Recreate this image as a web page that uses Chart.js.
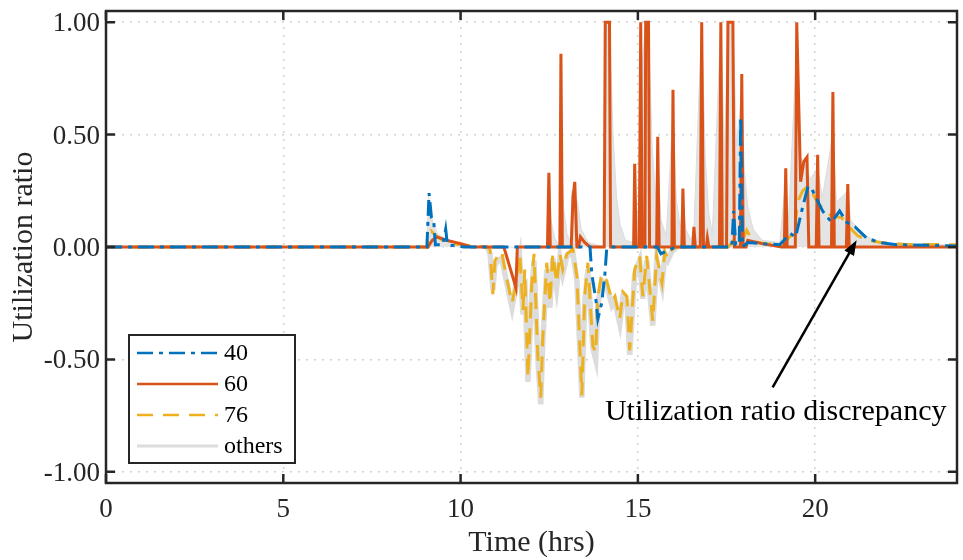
<!DOCTYPE html>
<html>
<head>
<meta charset="utf-8">
<script src="https://cdn.jsdelivr.net/npm/chart.js@4.4.1/dist/chart.umd.min.js"></script>
<style>
  html, body { margin: 0; padding: 0; background: #fff; }
</style>
</head>
<body>
<canvas id="chart" width="963" height="560"></canvas>
<script>
// axis ticks
const xTicks = [0, 5, 10, 15, 20];
const yTicks = [-1, -0.5, 0, 0.5, 1];

// bus 40 (blue, dash-dot)
const t40 = [0, 9.05, 9.11, 9.18, 9.24, 9.29, 9.5, 9.58, 9.63, 10.1, 13.65, 13.7, 13.82, 13.87, 13.98, 14.07, 14.12, 14.2,
  15.55, 15.65, 15.8, 16.0, 16.2, 17.65, 17.7, 17.76, 17.86, 17.9, 17.95, 18.1, 18.5, 19.0, 19.3, 19.45, 19.65, 19.8, 19.9,
  20.21, 20.46, 20.69, 20.89, 21.12, 21.45, 21.82, 22.3, 24];
const v40 = [0, 0, 0.24, 0.13, 0.12, 0.01, 0.01, 0.08, 0.01, 0, 0, -0.12, -0.24, -0.32, -0.25, -0.12, -0.01, 0,
  0, -0.03, -0.02, -0.005, 0, 0, 0.16, 0.01, 0.01, 0.58, 0, 0.02, 0.015, 0.01, 0.06, 0.045, 0.18, 0.27, 0.26,
  0.16, 0.11, 0.16, 0.11, 0.09, 0.04, 0.02, 0.01, 0.005];

// bus 60 (orange, solid)
const t60 = [0, 9.08, 9.2, 9.33, 9.6, 10.06, 10.3, 11.22, 11.56, 11.6, 12.45, 12.49, 12.53, 12.8, 12.83, 12.87,
  13.12, 13.17, 13.22, 13.28, 13.33, 13.38, 13.5, 13.65, 14.05, 14.08, 14.2, 14.23, 14.88, 14.91, 14.95, 15.04, 15.08, 15.12,
  15.2, 15.22, 15.3, 15.33, 15.53, 15.56, 15.6, 15.96, 15.99, 16.03, 16.24, 16.27, 16.31, 16.55, 16.58, 16.62,
  16.76, 16.8, 16.85, 16.93, 16.96, 17.0, 17.3, 17.34, 17.38, 17.5, 17.54, 17.68, 17.72, 17.89, 17.93, 17.97,
  18.05, 18.1, 18.5, 19.05, 19.13, 19.17, 19.21, 19.44, 19.48, 19.59, 19.68, 19.77, 19.82, 20.03, 20.07, 20.11,
  20.46, 20.5, 20.54, 20.88, 20.92, 20.96, 24];
const v60 = [0, 0, 0.03, 0.045, 0.03, 0.013, 0, 0, -0.18, 0, 0, 0.33, 0, 0, 0.86, 0,
  0, 0.22, 0.29, 0, 0, 0.045, 0.02, 0, 0, 1, 1, 0, 0, 0.37, 0, 0, 1, 0,
  0, 1, 1, 0, 0, 0.49, 0, 0, 0.7, 0, 0, 0.26, 0, 0, 0.09, 0,
  0, 1, 0, 0, 0.04, 0, 0, 1, 0, 0, 1, 1, 0, 0, 0.77, 0,
  0, 0.03, 0.015, 0, 0, 0.35, 0, 0, 1, 0.29, 0.38, 0.4, 0, 0, 0.41, 0,
  0, 0.69, 0, 0, 0.28, 0, 0];

// bus 76 (yellow, dashed)
const t76 = [0, 9.08, 9.18, 9.3, 9.5, 9.8, 10.3, 10.75, 10.83, 10.91, 10.97, 11.05, 11.16, 11.25, 11.45, 11.53, 11.67,
  11.76, 11.81, 11.9, 12.01, 12.07, 12.18, 12.26, 12.32, 12.43, 12.52, 12.6, 12.71, 12.8, 12.88, 13.0, 13.17, 13.28,
  13.42, 13.5, 13.59, 13.73, 13.81, 13.87, 13.98, 14.12, 14.27, 14.35, 14.49, 14.58, 14.69, 14.77, 14.91, 15.05,
  15.14, 15.25, 15.42, 15.53, 15.68, 15.76, 15.84, 15.96, 16.1, 17.55, 17.7, 17.85, 17.95, 18.07, 18.24, 18.6,
  19.1, 19.28, 19.42, 19.5, 19.65, 19.8, 20.1, 20.45, 20.75, 20.95, 21.2, 21.5, 21.85, 22.5, 24];
const v76 = [0, 0, 0.07, 0.05, 0.03, 0.015, 0.005, 0, -0.01, -0.21, -0.06, -0.04, -0.02, -0.1, -0.25, -0.19, -0.03,
  -0.28, -0.1, -0.58, -0.16, -0.03, -0.49, -0.67, -0.4, -0.07, -0.25, -0.03, -0.16, -0.03, -0.1, -0.03, -0.01, -0.13,
  -0.66, -0.22, -0.07, -0.44, -0.47, -0.22, -0.12, -0.15, -0.24, -0.22, -0.32, -0.2, -0.22, -0.46, -0.1, -0.04,
  -0.22, -0.04, -0.33, -0.04, -0.16, -0.02, -0.05, -0.01, 0, 0, 0.03, 0.04, 0.03, 0.075, 0.025, 0.015,
  0.01, 0.045, 0.06, 0.2, 0.25, 0.27, 0.19, 0.14, 0.13, 0.09, 0.05, 0.03, 0.02, 0.012, 0.01];

// other buses, positive part (grey, filled look)
const tOthA = [0, 9.05, 9.1, 9.2, 9.35, 9.6, 10.0, 10.4, 12.45, 12.49, 12.55, 12.65, 12.8, 12.83, 12.9, 13.0, 13.1,
  13.14, 13.3, 13.4, 13.6, 14.05, 14.08, 14.2, 14.3, 14.4, 14.5, 14.65, 14.88, 14.91, 14.98, 15.06, 15.08, 15.12,
  15.22, 15.3, 15.4, 15.5, 15.56, 15.65, 15.8, 15.99, 16.08, 16.2, 16.27, 16.35, 16.5, 16.58, 16.8, 16.9, 17.0,
  17.1, 17.34, 17.44, 17.54, 17.68, 17.78, 17.93, 18.0, 18.1, 18.25, 18.5, 19.0, 19.17, 19.25, 19.48, 19.55, 19.7,
  19.85, 20.07, 20.2, 20.5, 20.6, 20.92, 21.0, 21.3, 21.8, 22.5, 24];
const vOthA = [0, 0, 0.22, 0.12, 0.06, 0.03, 0.01, 0, 0, 0.3, 0.12, 0.04, 0, 0.5, 0.18, 0.06, 0.02,
  0.25, 0.2, 0.08, 0.02, 0, 1, 1, 0.5, 0.22, 0.1, 0.03, 0.02, 0.3, 0.1, 0.3, 1, 0.8,
  1, 1, 0.45, 0.22, 0.4, 0.12, 0.05, 0.6, 0.22, 0.08, 0.22, 0.08, 0.03, 0.08, 1, 0.4, 0.15,
  0.06, 1, 0.4, 1, 1, 0.45, 0.7, 0.35, 0.18, 0.08, 0.03, 0.02, 0.3, 0.12, 0.9, 0.4, 0.38,
  0.3, 0.35, 0.22, 0.5, 0.2, 0.25, 0.12, 0.06, 0.02, 0.01, 0.01];

// other buses, negative part (grey band under the dips)
const tOthB = [10.75, 10.83, 10.91, 10.97, 11.05, 11.16, 11.25, 11.45, 11.53, 11.67, 11.76, 11.81, 11.9, 12.01,
  12.07, 12.18, 12.26, 12.32, 12.43, 12.52, 12.6, 12.71, 12.8, 12.88, 13.0, 13.17, 13.28, 13.42, 13.5, 13.59,
  13.73, 13.81, 13.87, 13.98, 14.12, 14.27, 14.35, 14.49, 14.58, 14.69, 14.77, 14.91, 15.05, 15.14, 15.25,
  15.42, 15.53, 15.68, 15.76, 15.84, 15.96, 16.1];
const vOthB = [0, -0.03, -0.19, -0.08, -0.06, -0.05, -0.12, -0.27, -0.2, -0.06, -0.3, -0.14, -0.6, -0.2,
  -0.06, -0.5, -0.7, -0.42, -0.1, -0.27, -0.05, -0.18, -0.05, -0.12, -0.04, -0.03, -0.15,
  -0.67, -0.25, -0.1, -0.45, -0.5, -0.26, -0.15, -0.17, -0.26, -0.24, -0.34, -0.22, -0.24, -0.48, -0.12, -0.06,
  -0.23, -0.06, -0.35, -0.06, -0.17, -0.04, -0.06, -0.02, 0];

const pts = (t, v) => t.map((x, i) => ({ x: x, y: v[i] }));

const serif = "'Liberation Serif', 'Times New Roman', serif";
const ink = '#262626';

const extras = {
  id: 'extras',
  afterDraw(chart) {
    const { ctx, chartArea: a, scales: { x, y } } = chart;
    ctx.save();

    // box + inward ticks
    ctx.strokeStyle = ink;
    ctx.lineWidth = 2.5;
    ctx.strokeRect(a.left, a.top, a.right - a.left, a.bottom - a.top);
    ctx.beginPath();
    xTicks.forEach(v => {
      const px = x.getPixelForValue(v);
      ctx.moveTo(px, a.bottom); ctx.lineTo(px, a.bottom - 9);
      ctx.moveTo(px, a.top); ctx.lineTo(px, a.top + 9);
    });
    yTicks.forEach(v => {
      const py = y.getPixelForValue(v);
      ctx.moveTo(a.left, py); ctx.lineTo(a.left + 9, py);
      ctx.moveTo(a.right, py); ctx.lineTo(a.right - 9, py);
    });
    ctx.stroke();

    // annotation arrow
    const tipX = x.getPixelForValue(21.17), tipY = y.getPixelForValue(0.03);
    const tailX = x.getPixelForValue(18.8), tailY = y.getPixelForValue(-0.625);
    const ang = Math.atan2(tipY - tailY, tipX - tailX);
    ctx.strokeStyle = '#000';
    ctx.fillStyle = '#000';
    ctx.lineWidth = 2.5;
    ctx.beginPath();
    ctx.moveTo(tailX, tailY);
    ctx.lineTo(tipX - 10 * Math.cos(ang), tipY - 10 * Math.sin(ang));
    ctx.stroke();
    ctx.beginPath();
    ctx.moveTo(tipX, tipY);
    ctx.lineTo(tipX - 15 * Math.cos(ang) + 5.5 * Math.sin(ang), tipY - 15 * Math.sin(ang) - 5.5 * Math.cos(ang));
    ctx.lineTo(tipX - 15 * Math.cos(ang) - 5.5 * Math.sin(ang), tipY - 15 * Math.sin(ang) + 5.5 * Math.cos(ang));
    ctx.closePath();
    ctx.fill();
    ctx.font = '30px ' + serif;
    ctx.textBaseline = 'middle';
    ctx.textAlign = 'left';
    ctx.fillText('Utilization ratio discrepancy', x.getPixelForValue(14.07), y.getPixelForValue(-0.735));

    // legend box
    const lx = a.left + 23, ly = a.top + 324, lw = 166, lh = 128;
    ctx.fillStyle = '#fff';
    ctx.fillRect(lx, ly, lw, lh);
    ctx.strokeStyle = ink;
    ctx.lineWidth = 2;
    ctx.strokeRect(lx, ly, lw, lh);
    ctx.font = '24px ' + serif;
    chart.data.datasets.filter(d => d.label).forEach((d, i) => {
      const ry = ly + 18 + i * 31;
      ctx.beginPath();
      ctx.setLineDash(d.borderDash || []);
      ctx.strokeStyle = d.borderColor;
      ctx.lineWidth = d.label === 'others' ? 3 : 2.5;
      ctx.moveTo(lx + 8, ry);
      ctx.lineTo(lx + 89, ry);
      ctx.stroke();
      ctx.setLineDash([]);
      ctx.fillStyle = '#000';
      ctx.fillText(d.label, lx + 95, ry + 1);
    });
    ctx.restore();
  }
};

const tickFont = { family: serif, size: 27 };
const titleFont = { family: serif, size: 30, lineHeight: 1 };

new Chart(document.getElementById('chart'), {
  type: 'line',
  data: {
    datasets: [
      { label: '40', data: pts(t40, v40), borderColor: '#0072BD', borderWidth: 3, borderDash: [16, 6, 4, 6], order: 1 },
      { label: '60', data: pts(t60, v60), borderColor: '#D95319', borderWidth: 3, order: 2 },
      { label: '76', data: pts(t76, v76), borderColor: '#EDB120', borderWidth: 3, borderDash: [16, 10], order: 3 },
      { label: 'others', data: pts(tOthA, vOthA), borderColor: '#dcdcdc', backgroundColor: '#e4e4e4', borderWidth: 1, fill: 'origin', order: 5 },
      { label: '', data: pts(tOthB, vOthB), borderColor: '#dcdcdc', borderWidth: 5.5, order: 4 }
    ]
  },
  options: {
    responsive: false,
    animation: false,
    parsing: false,
    elements: { point: { radius: 0 }, line: { tension: 0, borderJoinStyle: 'miter' } },
    layout: { padding: { top: 11, right: 6, left: 0, bottom: 0 } },
    plugins: { legend: { display: false }, tooltip: { enabled: false } },
    scales: {
      x: {
        type: 'linear', min: 0, max: 24,
        afterBuildTicks: s => { s.ticks = xTicks.map(v => ({ value: v })); },
        afterFit: s => { s.height = 77; s.paddingLeft = 0; s.paddingRight = 0; },
        grid: { color: '#d2d2d2', lineWidth: 1.5, drawTicks: false },
        border: { display: false, dash: [2, 6] },
        ticks: { font: tickFont, color: ink, padding: 11, maxRotation: 0 },
        title: { display: true, text: 'Time (hrs)', font: titleFont, color: ink, padding: { top: 0, bottom: 2 } }
      },
      y: {
        type: 'linear', min: -1.05, max: 1.05,
        afterBuildTicks: s => { s.ticks = yTicks.map(v => ({ value: v })); },
        afterFit: s => { s.width = 106; s.paddingTop = 0; s.paddingBottom = 0; },
        grid: { color: '#d2d2d2', lineWidth: 1.5, drawTicks: false },
        border: { display: false, dash: [2, 6] },
        ticks: { font: tickFont, color: ink, padding: 6, labelOffset: 2, callback: v => v.toFixed(2) },
        title: { display: true, text: 'Utilization ratio', font: titleFont, color: ink, padding: { top: 9, bottom: 0 } }
      }
    }
  },
  plugins: [extras]
});
</script>
</body>
</html>
